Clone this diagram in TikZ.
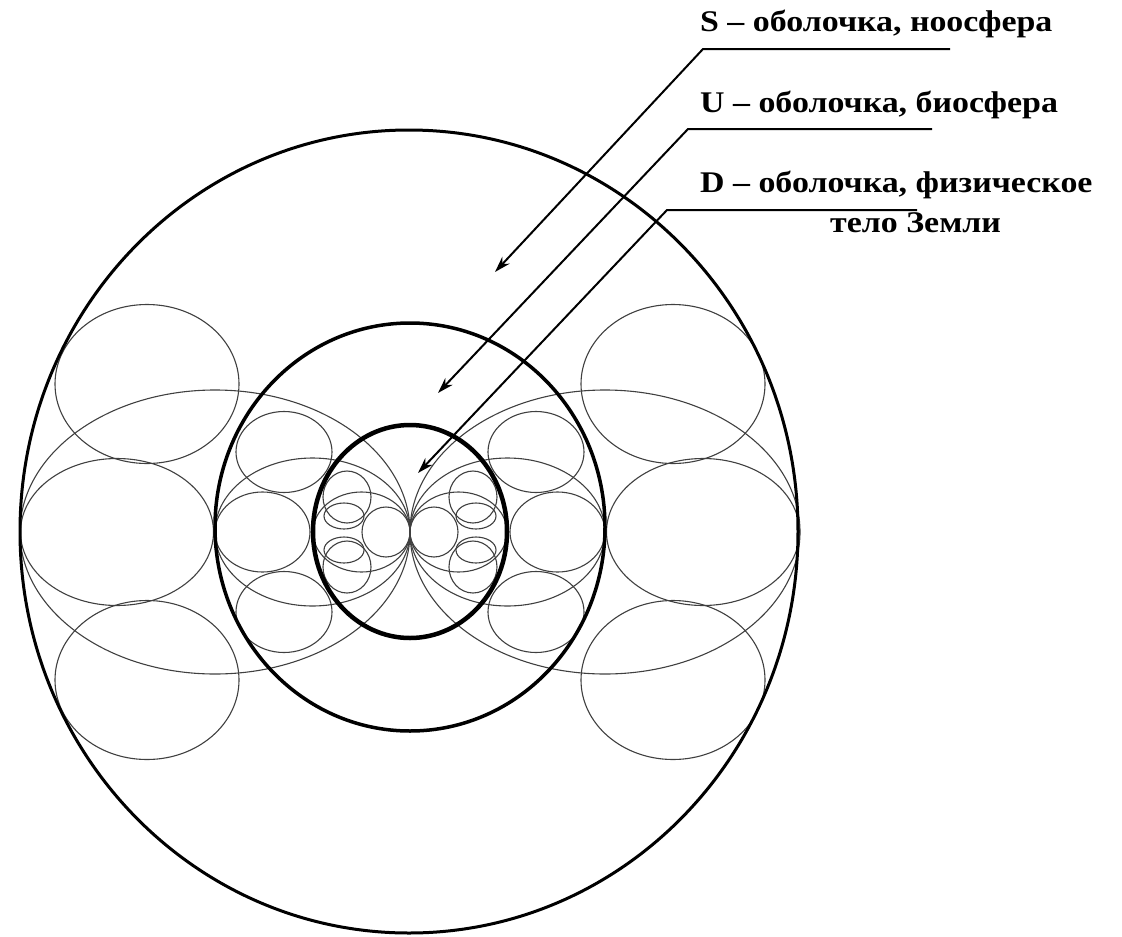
\documentclass[tikz,border=0pt]{standalone}
\usepackage{fontspec}
\setmainfont{Liberation Serif}
\newfontfamily\lblfont[FakeStretch=1.13]{Liberation Serif}
\usetikzlibrary{arrows.meta}
\tikzset{
  thick shell/.style={draw=black, line width=#1},
  thin/.style={draw=black!75, line width=1.1pt},
  lbl/.style={font=\lblfont\fontsize{30}{38}\selectfont\bfseries, anchor=base west, inner sep=0pt},
  lead/.style={draw=black, line width=2pt, -{Stealth[length=16pt,width=10pt]}},
}
\begin{document}
\begin{tikzpicture}[x=1pt,y=-1pt]
\useasboundingbox (0,0) rectangle (1122,937);
% thin pattern ellipses, mirrored left/right
\foreach \s in {1,-1}{
  \begin{scope}[shift={(410,532)}, xscale=\s]
    % outer level
    \draw[thin] (-195,0) ellipse [x radius=195pt, y radius=142pt];
    \draw[thin] (-293,0) ellipse [x radius=96.5pt, y radius=73.5pt];
    \draw[thin] (-263,-148) ellipse [x radius=92pt, y radius=79.5pt];
    \draw[thin] (-263,148) ellipse [x radius=92pt, y radius=79.5pt];
    % middle level
    \draw[thin] (-97.5,0) ellipse [x radius=97.5pt, y radius=74pt];
    \draw[thin] (-147.5,0) ellipse [x radius=47.5pt, y radius=40pt];
    \draw[thin] (-126,-80) ellipse [x radius=48pt, y radius=40.5pt];
    \draw[thin] (-126,80) ellipse [x radius=48pt, y radius=40.5pt];
    % inner level
    \draw[thin] (-48.5,0) ellipse [x radius=48.5pt, y radius=40pt];
    \draw[thin] (-63,-35) ellipse [x radius=24pt, y radius=26pt];
    \draw[thin] (-63,35) ellipse [x radius=24pt, y radius=26pt];
    \draw[thin] (-66,-16) ellipse [x radius=20pt, y radius=13pt];
    \draw[thin] (-66,18) ellipse [x radius=20pt, y radius=13pt];
    \draw[thin] (-24,0) ellipse [x radius=24pt, y radius=25pt];
  \end{scope}
}
% thick shells
\draw[thick shell=3pt] (409,531.5) ellipse [x radius=389pt, y radius=401.5pt];
\draw[thick shell=3.5pt] (410,527) ellipse [x radius=195pt, y radius=204pt];
\draw[thick shell=4.5pt] (410,531.5) ellipse [x radius=97pt, y radius=106.5pt];
% labels
\node[lbl] (S) at (700,31) {S – оболочка, ноосфера};
\node[lbl] (U) at (700,112) {U – оболочка, биосфера};
\node[lbl] (D) at (700,192) {D – оболочка, физическое};
\node[lbl] (D2) at (830,232) {тело Земли};
% leader lines
\coordinate (s1) at (703,49);  \coordinate (s2) at (950,49);  \coordinate (st) at (495,272);
\coordinate (u1) at (688,129); \coordinate (u2) at (932,129); \coordinate (ut) at (438,393);
\coordinate (d1) at (667,210); \coordinate (d2) at (917,210); \coordinate (dt) at (418,473);
\draw[lead] (s2) -- (s1) -- (st);
\draw[lead] (u2) -- (u1) -- (ut);
\draw[lead] (d2) -- (d1) -- (dt);
\end{tikzpicture}
\end{document}
